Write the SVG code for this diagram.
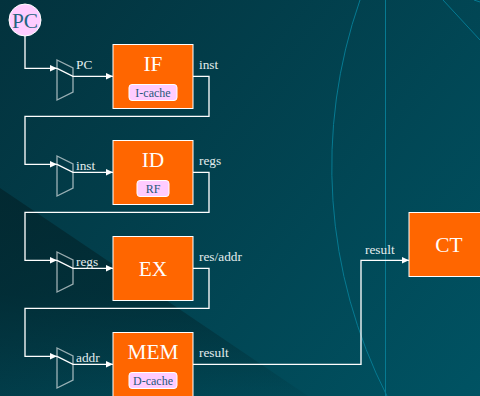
<svg xmlns="http://www.w3.org/2000/svg" width="480" height="396" viewBox="0 0 480 396">
<defs>
<linearGradient id="bg" gradientUnits="userSpaceOnUse" x1="0" y1="0" x2="480" y2="396"><stop offset="0" stop-color="#03323d"/><stop offset="1" stop-color="#005363"/></linearGradient>
<linearGradient id="tri" gradientUnits="userSpaceOnUse" x1="0" y1="188" x2="0" y2="400"><stop offset="0" stop-color="#02242b" stop-opacity=".75"/><stop offset=".5" stop-color="#02242b" stop-opacity=".6"/><stop offset="1" stop-color="#02242b" stop-opacity=".05"/></linearGradient>
<marker id="arr" markerUnits="userSpaceOnUse" markerWidth="9" markerHeight="9" refX="7.500" refY="4.500" orient="auto"><path d="M0 1L7.500 4.500L0 8Z" fill="#fff"/></marker>
<style>
text{font-family:"Liberation Serif","Times New Roman",serif;opacity:.99}
.box{fill:#f60;stroke:#fff;stroke-width:1}
.t{fill:#fff;font-size:21.33px;text-anchor:middle}
.l{fill:#e6f0f0;font-size:13.33px}
.pill{fill:#fcf;stroke:#fff;stroke-width:1}
.pt{fill:#24587a;font-size:12px;text-anchor:middle}
.mux{fill:none;stroke:#fff;stroke-opacity:.6;stroke-width:1.33}
.w{fill:none;stroke:#fff;stroke-width:1.33}
.d{fill:none;stroke:#067a92;stroke-width:1}
</style>
</defs>
<rect width="480" height="396" fill="url(#bg)"/>
<path d="M0 188L308 396H0Z" fill="url(#tri)"/>
<g id="decor">
<path class="d" d="M360 0A505 505 0 0 0 387 396"/>
<path class="d" d="M385.500 0V396"/>
<path class="d" d="M443 0L480 40"/>
<path class="d" d="M474 0L480 2"/>
</g>
<g id="connectors">
<path class="w" marker-end="url(#arr)" d="M25 36V68.330H57"/>
<path class="w" marker-end="url(#arr)" d="M57 68.330L73 76.330H113"/>
<path class="w" marker-end="url(#arr)" d="M193 76.330H209V116.330H25V164.330H57"/>
<path class="w" marker-end="url(#arr)" d="M57 164.330L73 172.330H113"/>
<path class="w" marker-end="url(#arr)" d="M193 172.330H209V212.330H25V260.330H57"/>
<path class="w" marker-end="url(#arr)" d="M57 260.330L73 268.330H113"/>
<path class="w" marker-end="url(#arr)" d="M193 268.330H209V308.330H25V356.330H57"/>
<path class="w" marker-end="url(#arr)" d="M57 356.330L73 364.330H113"/>
<path class="w" marker-end="url(#arr)" d="M193 364.330H361V260.330H409"/>
<text class="l" x="76" y="69">PC</text>
<text class="l" x="199" y="69">inst</text>
<text class="l" x="76" y="170">inst</text>
<text class="l" x="199" y="165">regs</text>
<text class="l" x="76" y="266">regs</text>
<text class="l" x="199" y="261">res/addr</text>
<text class="l" x="76" y="362">addr</text>
<text class="l" x="199" y="357">result</text>
<text class="l" x="365" y="254">result</text>
</g>
<g id="PC"><circle cx="25" cy="20" r="16" fill="#fcf" stroke="#fff"/><text x="25" y="28" font-size="21.33" fill="#1f6480" text-anchor="middle">PC</text></g>
<g id="mux1"><path class="mux" d="M57 60L73 68V92L57 100Z"/></g>
<g id="mux2"><path class="mux" d="M57 156L73 164V188L57 196Z"/></g>
<g id="mux3"><path class="mux" d="M57 252L73 260V284L57 292Z"/></g>
<g id="mux4"><path class="mux" d="M57 348L73 356V380L57 388Z"/></g>
<g id="IF"><rect class="box" x="113" y="44.500" width="80" height="64"/><text class="t" x="153" y="71">IF</text><rect class="pill" x="129" y="84.500" width="48" height="16" rx="3"/><text class="pt" x="153" y="97">I-cache</text></g>
<g id="ID"><rect class="box" x="113" y="140.500" width="80" height="64"/><text class="t" x="153" y="167">ID</text><rect class="pill" x="137" y="180.500" width="32" height="16" rx="3"/><text class="pt" x="153" y="193">RF</text></g>
<g id="EX"><rect class="box" x="113" y="236.500" width="80" height="64"/><text class="t" x="153" y="276">EX</text></g>
<g id="MEM"><rect class="box" x="113" y="332.500" width="80" height="64"/><text class="t" x="153" y="359">MEM</text><rect class="pill" x="129" y="372.500" width="48" height="16" rx="3"/><text class="pt" x="153" y="385">D-cache</text></g>
<g id="CT"><rect class="box" x="409" y="212.500" width="80" height="64"/><text class="t" x="449" y="252">CT</text></g>
</svg>
